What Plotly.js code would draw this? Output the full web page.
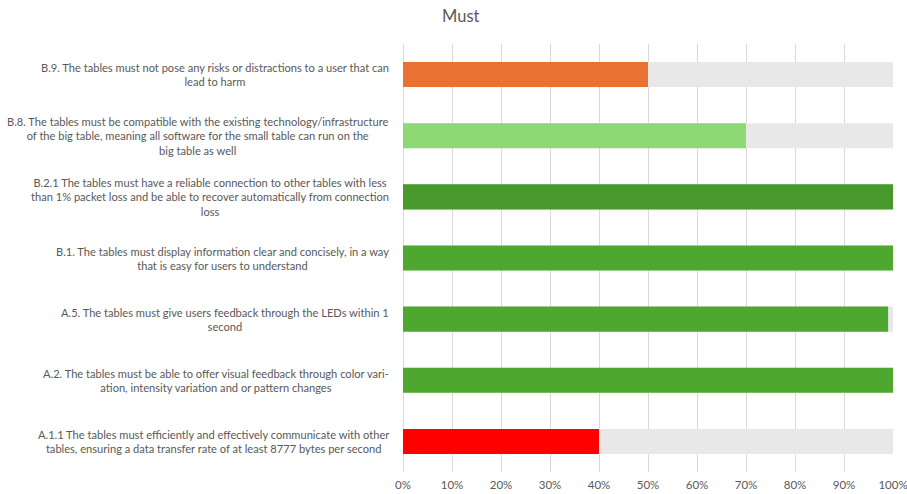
<!DOCTYPE html>
<html>
<head>
<meta charset="utf-8">
<script src="https://cdn.plot.ly/plotly-3.0.1.min.js"></script>
<style>html,body{margin:0;padding:0;background:#fff}#chart{width:907px;height:494px}</style>
</head>
<body>
<div id="chart"></div>
<script>
var categories = [
  "A.1.1 The tables must efficiently and effectively communicate with other<br>tables, ensuring a data transfer rate of at least 8777 bytes per second",
  "A.2. The tables must be able to offer visual feedback through color vari-<br>ation, intensity variation and or pattern changes",
  "A.5. The tables must give users feedback through the LEDs within 1<br>second",
  "B.1. The tables must display information clear and concisely, in a way<br>that is easy for users to understand",
  "B.2.1 The tables must have a reliable connection to other tables with less<br>than 1% packet loss and be able to recover automatically from connection<br>loss",
  "B.8. The tables must be compatible with the existing technology/infrastructure<br>of the big table, meaning all software for the small table can run on the<br>big table as well",
  "B.9. The tables must not pose any risks or distractions to a user that can<br>lead to harm"
];
var values = [40, 100, 99, 100, 100, 70, 50];
var totals = [100, 100, 100, 100, 100, 100, 100];
var barColors = ["#FF0000", "#4EA72E", "#4EA72E", "#4EA72E", "#47992B", "#8ED973", "#E97132"];
var tickVals = [0, 10, 20, 30, 40, 50, 60, 70, 80, 90, 100];
var tickText = ["0%", "10%", "20%", "30%", "40%", "50%", "60%", "70%", "80%", "90%", "100%"];
var yIdx = categories.map(function(c, i){ return i; });

var traces = [
  {type: "bar", orientation: "h", y: yIdx, x: totals, marker: {color: "#E8E8E8"}, hoverinfo: "skip", showlegend: false},
  {type: "bar", orientation: "h", y: yIdx, x: values, marker: {color: barColors}, showlegend: false}
];

var annotations = categories.map(function(c, i){
  return {xref: "paper", yref: "y", x: -0.025, y: i, text: c, showarrow: false,
          xanchor: "right", yanchor: "middle", align: "center",
          font: {family: "Lato, 'Open Sans', sans-serif", size: 11.1, color: "#595959"}};
});

var layout = {
  width: 907, height: 494,
  margin: {l: 403, r: 14, t: 44, b: 22},
  paper_bgcolor: "#fff", plot_bgcolor: "#fff",
  barmode: "overlay", bargap: 0.59,
  title: {text: "Must", x: 0.508, xanchor: "center", y: 0.968, yanchor: "middle",
          font: {family: "Lato, 'Open Sans', sans-serif", size: 16.5, color: "#595959"}},
  xaxis: {range: [0, 100], tickvals: tickVals, ticktext: tickText, showgrid: true,
          gridcolor: "#D9D9D9", gridwidth: 1, zeroline: true, zerolinecolor: "#D9D9D9",
          showline: false, ticks: "", fixedrange: true, ticklabeloverflow: "allow",
          ticklabelstandoff: 4,
          tickfont: {family: "Lato, 'Open Sans', sans-serif", size: 11.5, color: "#595959"}},
  yaxis: {range: [-0.5, 6.5], tickvals: yIdx, showticklabels: false, showgrid: false,
          zeroline: false, showline: false, ticks: "", fixedrange: true},
  annotations: annotations
};

Plotly.newPlot("chart", traces, layout, {displayModeBar: false, staticPlot: true});
</script>
</body>
</html>
